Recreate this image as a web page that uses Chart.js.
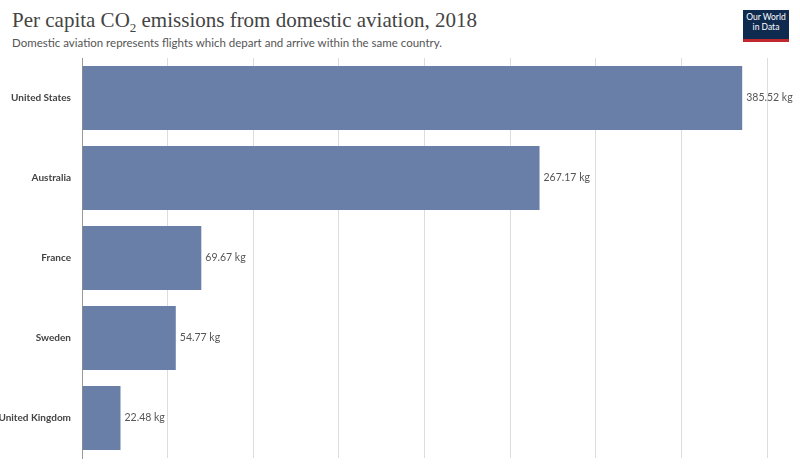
<!DOCTYPE html>
<html><head><meta charset="utf-8">
<script src="https://cdn.jsdelivr.net/npm/chart.js@4/dist/chart.umd.min.js"></script>
<style>
body{margin:0;background:#fff;width:800px;height:468px;overflow:hidden;position:relative;font-family:Lato,sans-serif}
#t{position:absolute;left:12px;top:8px;font-family:"Liberation Serif",serif;font-size:21px;color:#444}
#s{position:absolute;left:12px;top:36px;font-size:11.5px;color:#555}
#logo{position:absolute;left:743px;top:10px;width:46px;height:27px;background:#0f2a4f;color:#fff;font-size:8.5px;line-height:10px;text-align:center;padding-top:2px;border-bottom:3px solid #c1282d;box-sizing:content-box}
#c{position:absolute;left:0;top:0}
</style></head><body>
<div id="t">Per capita CO<sub style="font-size:13px">2</sub> emissions from domestic aviation, 2018</div>
<div id="s">Domestic aviation represents flights which depart and arrive within the same country.</div>
<div id="logo">Our World<br>in Data</div>
<canvas id="c" width="800" height="468"></canvas>
<script>
const countries=["United States","Australia","France","Sweden","United Kingdom"];
const values=[385.52,267.17,69.67,54.77,22.48];
const labelPlugin={id:'lbl',afterDatasetsDraw(ch){const ctx=ch.ctx;const m=ch.getDatasetMeta(0);ctx.save();ctx.font='10.5px Lato';ctx.fillStyle='#555';ctx.textBaseline='middle';m.data.forEach((b,i)=>{ctx.fillText(values[i].toFixed(2)+' kg',b.x+4,b.y);});ctx.restore();}};
new Chart(document.getElementById('c'),{type:'bar',data:{labels:countries,datasets:[{data:values,backgroundColor:'#6a7fa8',categoryPercentage:1,barPercentage:0.8}]},
options:{indexAxis:'y',responsive:false,animation:false,layout:{padding:{top:58,right:33,bottom:10,left:0}},
plugins:{legend:{display:false},tooltip:{enabled:false}},
scales:{x:{min:0,max:400,ticks:{display:false,stepSize:50},border:{display:false},grid:{color:'#ddd',borderDash:[3,3],drawTicks:false}},
y:{ticks:{color:'#444',font:{family:'Lato',size:10,weight:'bold'},padding:3},grid:{display:false},border:{color:'#999'},afterFit(s){s.width=82;}}}},
plugins:[labelPlugin]});
</script></body></html>
